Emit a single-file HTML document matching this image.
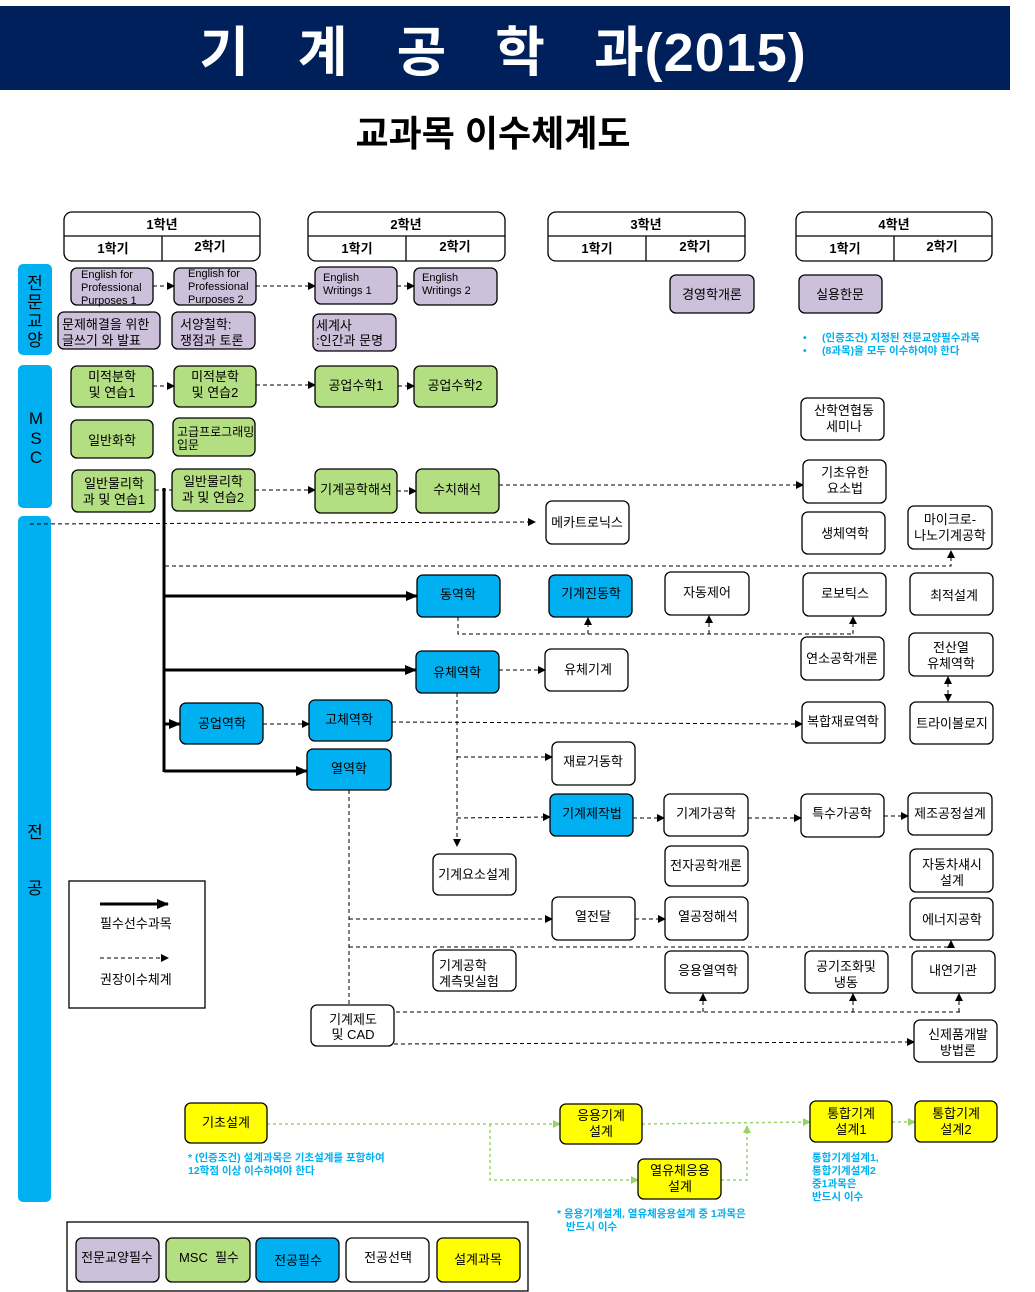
<!DOCTYPE html>
<html><head><meta charset="utf-8"><style>
html,body{margin:0;padding:0;background:#fff}
svg{display:block}
text{font-family:"Liberation Sans","Noto Sans CJK KR",sans-serif;fill:#000}
.b{stroke:#000;stroke-width:1.3}
.t{font-size:13px;text-anchor:middle}
.s{font-size:11px;text-anchor:start}
.d{stroke:#000;stroke-width:1;stroke-dasharray:4 3;fill:none}
.k{stroke:#000;stroke-width:3;fill:none}
.g{stroke:#9bd36b;stroke-width:1.5;stroke-dasharray:3 3;fill:none}
.n{fill:#00b0f0;font-size:10.5px;font-weight:bold}
</style></head><body>
<svg width="1035" height="1292" viewBox="0 0 1035 1292" xmlns="http://www.w3.org/2000/svg">
<defs>
<marker id="a" markerWidth="8" markerHeight="8" refX="7" refY="4" orient="auto" markerUnits="userSpaceOnUse"><path d="M0,0 L8,4 L0,8z" fill="#000"/></marker>
<marker id="A" markerWidth="12" markerHeight="12" refX="11" refY="6" orient="auto" markerUnits="userSpaceOnUse"><path d="M0,1 L12,6 L0,11z" fill="#000"/></marker>
<marker id="ga" markerWidth="8" markerHeight="8" refX="7" refY="4" orient="auto" markerUnits="userSpaceOnUse"><path d="M0,0 L8,4 L0,8z" fill="#9bd36b"/></marker>
</defs>
<rect x="0" y="6" width="1010" height="84" fill="#00205b"/>
<text x="503" y="71" style="font-size:54px;font-weight:bold;fill:#fff;text-anchor:middle;letter-spacing:1px" xml:space="preserve">기   계   공   학   과(2015)</text>
<text x="493" y="146" style="font-size:36px;font-weight:bold;text-anchor:middle">교과목 이수체계도</text>

<!-- year headers -->
<g fill="#fff">
<rect class="b" x="64" y="212" width="196" height="49" rx="8"/><line class="b" x1="64" y1="236" x2="260" y2="236"/><line class="b" x1="162" y1="236" x2="162" y2="261"/>
<rect class="b" x="308" y="212" width="197" height="49" rx="8"/><line class="b" x1="308" y1="236" x2="505" y2="236"/><line class="b" x1="406" y1="236" x2="406" y2="261"/>
<rect class="b" x="548" y="212" width="197" height="49" rx="8"/><line class="b" x1="548" y1="236" x2="745" y2="236"/><line class="b" x1="646" y1="236" x2="646" y2="261"/>
<rect class="b" x="796" y="212" width="196" height="49" rx="8"/><line class="b" x1="796" y1="236" x2="992" y2="236"/><line class="b" x1="894" y1="236" x2="894" y2="261"/>
</g>
<g>
<text class="t" x="162" y="229" font-weight="bold">1학년</text><text class="t" x="113" y="253" font-weight="bold">1학기</text><text class="t" x="210" y="251" font-weight="bold">2학기</text>
<text class="t" x="406" y="229" font-weight="bold">2학년</text><text class="t" x="357" y="253" font-weight="bold">1학기</text><text class="t" x="455" y="251" font-weight="bold">2학기</text>
<text class="t" x="646" y="229" font-weight="bold">3학년</text><text class="t" x="597" y="253" font-weight="bold">1학기</text><text class="t" x="695" y="251" font-weight="bold">2학기</text>
<text class="t" x="894" y="229" font-weight="bold">4학년</text><text class="t" x="845" y="253" font-weight="bold">1학기</text><text class="t" x="942" y="251" font-weight="bold">2학기</text>
</g>

<!-- side bars -->
<rect x="18" y="264" width="34" height="91" rx="5" fill="#00b0f0"/>
<rect x="18" y="365" width="34" height="143" rx="5" fill="#00b0f0"/>
<rect x="18" y="516" width="33" height="686" rx="5" fill="#00b0f0"/>
<g>
<text x="35" y="289" text-anchor="middle" font-size="17">전</text><text x="35" y="308" text-anchor="middle" font-size="17">문</text><text x="35" y="327" text-anchor="middle" font-size="17">교</text><text x="35" y="346" text-anchor="middle" font-size="17">양</text>
<text x="36" y="424" text-anchor="middle" font-size="17">M</text><text x="36" y="444" text-anchor="middle" font-size="17">S</text><text x="36" y="463" text-anchor="middle" font-size="17">C</text>
<text x="35" y="838" text-anchor="middle" font-size="17">전</text><text x="35" y="894" text-anchor="middle" font-size="17">공</text>
</g>

<!-- connectors -->
<g class="d">
<line class="d" x1="153" y1="286" x2="174" y2="286" marker-end="url(#a)"/>
<line class="d" x1="256" y1="286" x2="315" y2="286" marker-end="url(#a)"/>
<line class="d" x1="397" y1="286" x2="414" y2="286" marker-end="url(#a)"/>
<line class="d" x1="153" y1="386" x2="174" y2="386" marker-end="url(#a)"/>
<line class="d" x1="256" y1="385" x2="315" y2="385" marker-end="url(#a)"/>
<line class="d" x1="398" y1="386" x2="414" y2="386" marker-end="url(#a)"/>
<line class="d" x1="255" y1="490" x2="315" y2="490" marker-end="url(#a)"/>
<line class="d" x1="397" y1="491" x2="416" y2="491" marker-end="url(#a)"/>
<line class="d" x1="499" y1="485" x2="803" y2="485" marker-end="url(#a)"/>
<line class="d" x1="30" y1="524" x2="535" y2="522" marker-end="url(#a)"/>
<polyline class="d" points="165,566 951,566 951,551" marker-end="url(#a)"/>
<polyline class="d" points="458,617 458,634 853,634"/>
<line class="d" x1="588" y1="634" x2="588" y2="618" marker-end="url(#a)"/>
<line class="d" x1="709" y1="634" x2="709" y2="616" marker-end="url(#a)"/>
<line class="d" x1="853" y1="634" x2="853" y2="617" marker-end="url(#a)"/>
<line class="d" x1="499" y1="670" x2="545" y2="670" marker-end="url(#a)"/>
<line class="d" x1="948" y1="687" x2="948" y2="677" marker-end="url(#a)"/>
<line class="d" x1="948" y1="690" x2="948" y2="701" marker-end="url(#a)"/>
<line class="d" x1="263" y1="724" x2="309" y2="724" marker-end="url(#a)"/>
<line class="d" x1="392" y1="722" x2="802" y2="724" marker-end="url(#a)"/>
<line class="d" x1="457" y1="693" x2="457" y2="846" marker-end="url(#a)"/>
<line class="d" x1="457" y1="757" x2="552" y2="757" marker-end="url(#a)"/>
<line class="d" x1="457" y1="818" x2="550" y2="817" marker-end="url(#a)"/>
<line class="d" x1="633" y1="818" x2="664" y2="818" marker-end="url(#a)"/>
<line class="d" x1="748" y1="818" x2="801" y2="818" marker-end="url(#a)"/>
<line class="d" x1="884" y1="816" x2="908" y2="816" marker-end="url(#a)"/>
<line class="d" x1="349" y1="790" x2="349" y2="1012"/>
<line class="d" x1="349" y1="919" x2="552" y2="919" marker-end="url(#a)"/>
<line class="d" x1="635" y1="919" x2="665" y2="919" marker-end="url(#a)"/>
<polyline class="d" points="349,947 951,947 951,941" marker-end="url(#a)"/>
<line class="d" x1="347" y1="1012" x2="960" y2="1012"/>
<line class="d" x1="703" y1="1012" x2="703" y2="994" marker-end="url(#a)"/>
<line class="d" x1="853" y1="1012" x2="853" y2="994" marker-end="url(#a)"/>
<line class="d" x1="959" y1="1012" x2="959" y2="994" marker-end="url(#a)"/>
<line class="d" x1="394" y1="1044" x2="914" y2="1042" marker-end="url(#a)"/>
</g>
<line class="d" x1="155" y1="490" x2="172" y2="490"/>
<!-- thick -->
<line class="k" x1="164" y1="488" x2="164" y2="772"/>
<line class="k" x1="164" y1="596" x2="417" y2="596" marker-end="url(#A)"/>
<line class="k" x1="164" y1="670" x2="416" y2="670" marker-end="url(#A)"/>
<line class="k" x1="164" y1="724" x2="180" y2="724" marker-end="url(#A)"/>
<line class="k" x1="164" y1="771" x2="307" y2="771" marker-end="url(#A)"/>
<!-- design green -->
<line class="g" x1="267" y1="1124" x2="560" y2="1124" marker-end="url(#ga)"/>
<line class="g" x1="642" y1="1124" x2="810" y2="1122" marker-end="url(#ga)"/>
<line class="g" x1="892" y1="1122" x2="915" y2="1122" marker-end="url(#ga)"/>
<polyline class="g" points="490,1124 490,1180 638,1180" marker-end="url(#ga)"/>
<polyline class="g" points="721,1180 747,1180 747,1126" marker-end="url(#ga)"/>

<!-- purple boxes -->
<g fill="#ccc0da">
<rect class="b" x="71" y="268" width="82" height="37" rx="6"/>
<rect class="b" x="174" y="268" width="82" height="37" rx="6"/>
<rect class="b" x="315" y="267" width="82" height="37" rx="6"/>
<rect class="b" x="414" y="268" width="83" height="37" rx="6"/>
<rect class="b" x="58" y="312" width="102" height="37" rx="6"/>
<rect class="b" x="172" y="312" width="83" height="37" rx="6"/>
<rect class="b" x="313" y="314" width="83" height="37" rx="6"/>
<rect class="b" x="670" y="275" width="84" height="38" rx="6"/>
<rect class="b" x="799" y="275" width="83" height="38" rx="6"/>
</g>
<g font-size="11">
<text x="81" y="278" font-size="11">English for</text><text x="81" y="291" font-size="11">Professional</text><text x="81" y="304" font-size="11">Purposes 1</text>
<text x="188" y="277" font-size="11">English for</text><text x="188" y="290" font-size="11">Professional</text><text x="188" y="303" font-size="11">Purposes 2</text>
<text x="323" y="281" font-size="11">English</text><text x="323" y="294" font-size="11">Writings 1</text>
<text x="422" y="281" font-size="11">English</text><text x="422" y="294" font-size="11">Writings 2</text>
</g>
<text x="62" y="329" font-size="13">문제해결을 위한</text><text x="62" y="345" font-size="13">글쓰기 와 발표</text>
<text x="180" y="329" font-size="13">서양철학:</text><text x="180" y="345" font-size="13">쟁점과 토론</text>
<text x="316" y="330" font-size="13">세계사</text><text x="316" y="345" font-size="13">:인간과 문명</text>
<text class="t" x="712" y="299">경영학개론</text>
<text class="t" x="840" y="299">실용한문</text>
<text class="n" x="803" y="341">•</text><text class="n" x="822" y="341">(인증조건) 지정된 전문교양필수과목</text>
<text class="n" x="803" y="354">•</text><text class="n" x="822" y="354">(8과목)을 모두 이수하여야 한다</text>

<!-- green boxes -->
<g fill="#b3de81">
<rect class="b" x="71" y="366" width="82" height="41" rx="6"/>
<rect class="b" x="174" y="366" width="82" height="41" rx="6"/>
<rect class="b" x="315" y="366" width="83" height="41" rx="6"/>
<rect class="b" x="414" y="366" width="83" height="41" rx="6"/>
<rect class="b" x="71" y="420" width="82" height="38" rx="6"/>
<rect class="b" x="173" y="418" width="82" height="38" rx="6"/>
<rect class="b" x="72" y="470" width="83" height="42" rx="6"/>
<rect class="b" x="172" y="469" width="83" height="42" rx="6"/>
<rect class="b" x="315" y="469" width="82" height="44" rx="6"/>
<rect class="b" x="416" y="469" width="83" height="44" rx="6"/>
</g>
<text class="t" x="112" y="381">미적분학</text><text class="t" x="112" y="397">및 연습1</text>
<text class="t" x="215" y="381">미적분학</text><text class="t" x="215" y="397">및 연습2</text>
<text class="t" x="356" y="390">공업수학1</text>
<text class="t" x="455" y="390">공업수학2</text>
<text class="t" x="112" y="445">일반화학</text>
<text x="177" y="436" font-size="12">고급프로그래밍</text><text x="177" y="449" font-size="12">입문</text>
<text class="t" x="114" y="488">일반물리학</text><text class="t" x="114" y="504">과 및 연습1</text>
<text class="t" x="213" y="486">일반물리학</text><text class="t" x="213" y="502">과 및 연습2</text>
<text class="t" x="356" y="494">기계공학해석</text>
<text class="t" x="457" y="494">수치해석</text>

<!-- blue boxes -->
<g fill="#00b0f0">
<rect class="b" x="417" y="575" width="83" height="42" rx="6"/>
<rect class="b" x="549" y="575" width="83" height="42" rx="6"/>
<rect class="b" x="416" y="651" width="83" height="42" rx="6"/>
<rect class="b" x="180" y="703" width="83" height="41" rx="6"/>
<rect class="b" x="309" y="700" width="83" height="41" rx="6"/>
<rect class="b" x="307" y="749" width="84" height="41" rx="6"/>
<rect class="b" x="550" y="794" width="83" height="42" rx="6"/>
</g>
<text class="t" x="458" y="599">동역학</text>
<text class="t" x="591" y="598">기계진동학</text>
<text class="t" x="457" y="677">유체역학</text>
<text class="t" x="222" y="728">공업역학</text>
<text class="t" x="349" y="724">고체역학</text>
<text class="t" x="349" y="773">열역학</text>
<text class="t" x="592" y="818">기계제작법</text>

<!-- white boxes -->
<g fill="#fff">
<rect class="b" x="546" y="501" width="83" height="43" rx="6"/>
<rect class="b" x="801" y="398" width="83" height="42" rx="6"/>
<rect class="b" x="803" y="460" width="83" height="43" rx="6"/>
<rect class="b" x="802" y="512" width="83" height="42" rx="6"/>
<rect class="b" x="908" y="506" width="84" height="43" rx="6"/>
<rect class="b" x="665" y="572" width="84" height="43" rx="6"/>
<rect class="b" x="803" y="573" width="83" height="43" rx="6"/>
<rect class="b" x="910" y="573" width="83" height="42" rx="6"/>
<rect class="b" x="801" y="637" width="83" height="43" rx="6"/>
<rect class="b" x="909" y="633" width="84" height="43" rx="6"/>
<rect class="b" x="545" y="649" width="83" height="42" rx="6"/>
<rect class="b" x="802" y="702" width="83" height="41" rx="6"/>
<rect class="b" x="910" y="702" width="83" height="42" rx="6"/>
<rect class="b" x="552" y="742" width="83" height="43" rx="6"/>
<rect class="b" x="664" y="794" width="84" height="42" rx="6"/>
<rect class="b" x="801" y="794" width="83" height="43" rx="6"/>
<rect class="b" x="908" y="793" width="84" height="42" rx="6"/>
<rect class="b" x="665" y="846" width="83" height="40" rx="6"/>
<rect class="b" x="910" y="849" width="83" height="43" rx="6"/>
<rect class="b" x="433" y="854" width="83" height="41" rx="6"/>
<rect class="b" x="552" y="897" width="83" height="43" rx="6"/>
<rect class="b" x="665" y="897" width="83" height="43" rx="6"/>
<rect class="b" x="910" y="898" width="83" height="42" rx="6"/>
<rect class="b" x="433" y="950" width="83" height="41" rx="6"/>
<rect class="b" x="665" y="951" width="83" height="42" rx="6"/>
<rect class="b" x="805" y="951" width="83" height="42" rx="6"/>
<rect class="b" x="912" y="951" width="83" height="42" rx="6"/>
<rect class="b" x="311" y="1005" width="83" height="41" rx="6"/>
<rect class="b" x="914" y="1020" width="83" height="42" rx="6"/>
</g>
<text class="t" x="587" y="527">메카트로닉스</text>
<text class="t" x="844" y="415">산학연협동</text><text class="t" x="844" y="431">세미나</text>
<text class="t" x="845" y="477">기초유한</text><text class="t" x="845" y="493">요소법</text>
<text class="t" x="845" y="538">생체역학</text>
<text class="t" x="950" y="524">마이크로-</text><text class="t" x="950" y="540">나노기계공학</text>
<text class="t" x="707" y="597">자동제어</text>
<text class="t" x="845" y="598">로보틱스</text>
<text class="t" x="954" y="600">최적설계</text>
<text class="t" x="842" y="663">연소공학개론</text>
<text class="t" x="951" y="652">전산열</text><text class="t" x="951" y="668">유체역학</text>
<text class="t" x="588" y="674">유체기계</text>
<text class="t" x="843" y="726">복합재료역학</text>
<text class="t" x="952" y="728">트라이볼로지</text>
<text class="t" x="593" y="766">재료거동학</text>
<text class="t" x="706" y="818">기계가공학</text>
<text class="t" x="842" y="818">특수가공학</text>
<text class="t" x="950" y="818">제조공정설계</text>
<text class="t" x="706" y="870">전자공학개론</text>
<text class="t" x="952" y="869">자동차섀시</text><text class="t" x="952" y="885">설계</text>
<text class="t" x="474" y="879">기계요소설계</text>
<text class="t" x="593" y="921">열전달</text>
<text class="t" x="708" y="921">열공정해석</text>
<text class="t" x="952" y="924">에너지공학</text>
<text x="439" y="970" font-size="13">기계공학</text><text x="439" y="986" font-size="13">계측및실험</text>
<text class="t" x="708" y="975">응용열역학</text>
<text class="t" x="846" y="971">공기조화및</text><text class="t" x="846" y="987">냉동</text>
<text class="t" x="953" y="975">내연기관</text>
<text class="t" x="353" y="1024">기계제도</text><text class="t" x="353" y="1039">및 CAD</text>
<text class="t" x="958" y="1039">신제품개발</text><text class="t" x="958" y="1055">방법론</text>

<!-- legend 1 -->
<rect x="69" y="881" width="136" height="127" fill="#fff" stroke="#000" stroke-width="1.3"/>
<line class="k" x1="100" y1="904" x2="168" y2="904" marker-end="url(#A)"/>
<text x="100" y="928" font-size="13">필수선수과목</text>
<line class="d" x1="100" y1="958" x2="168" y2="958" marker-end="url(#a)"/>
<text x="100" y="984" font-size="13">권장이수체계</text>

<!-- yellow -->
<g fill="#ffff00">
<rect class="b" x="185" y="1103" width="82" height="40" rx="6"/>
<rect class="b" x="560" y="1104" width="82" height="40" rx="6"/>
<rect class="b" x="638" y="1159" width="83" height="40" rx="6"/>
<rect class="b" x="810" y="1101" width="82" height="41" rx="6"/>
<rect class="b" x="915" y="1101" width="82" height="41" rx="6"/>
</g>
<text class="t" x="226" y="1127">기초설계</text>
<text class="t" x="601" y="1120">응용기계</text><text class="t" x="601" y="1136">설계</text>
<text class="t" x="680" y="1175">열유체응용</text><text class="t" x="680" y="1191">설계</text>
<text class="t" x="851" y="1118">통합기계</text><text class="t" x="851" y="1134">설계1</text>
<text class="t" x="956" y="1118">통합기계</text><text class="t" x="956" y="1134">설계2</text>
<text class="n" x="188" y="1161">* (인증조건) 설계과목은 기초설계를 포함하여</text>
<text class="n" x="188" y="1174">12학점 이상 이수하여야 한다</text>
<text class="n" x="557" y="1217">* 응용기계설계, 열유체응용설계 중 1과목은</text>
<text class="n" x="566" y="1230">반드시 이수</text>
<text class="n" x="812" y="1161">통합기계설계1,</text>
<text class="n" x="812" y="1174">통합기계설계2</text>
<text class="n" x="812" y="1187">중1과목은</text>
<text class="n" x="812" y="1200">반드시 이수</text>

<!-- legend 2 -->
<rect x="67" y="1222" width="461" height="69" fill="#fff" stroke="#000" stroke-width="1.3"/>
<rect class="b" x="76" y="1238" width="83" height="44" rx="6" fill="#ccc0da"/>
<rect class="b" x="166" y="1238" width="84" height="44" rx="6" fill="#b3de81"/>
<rect class="b" x="256" y="1238" width="83" height="44" rx="6" fill="#00b0f0"/>
<rect class="b" x="346" y="1238" width="83" height="44" rx="6" fill="#fff"/>
<rect class="b" x="437" y="1238" width="83" height="44" rx="6" fill="#ffff00"/>
<text class="t" x="117" y="1262">전문교양필수</text>
<text class="t" x="209" y="1262" xml:space="preserve">MSC  필수</text>
<text class="t" x="298" y="1265">전공필수</text>
<text class="t" x="388" y="1262">전공선택</text>
<text class="t" x="478" y="1264">설계과목</text>
</svg>
</body></html>
